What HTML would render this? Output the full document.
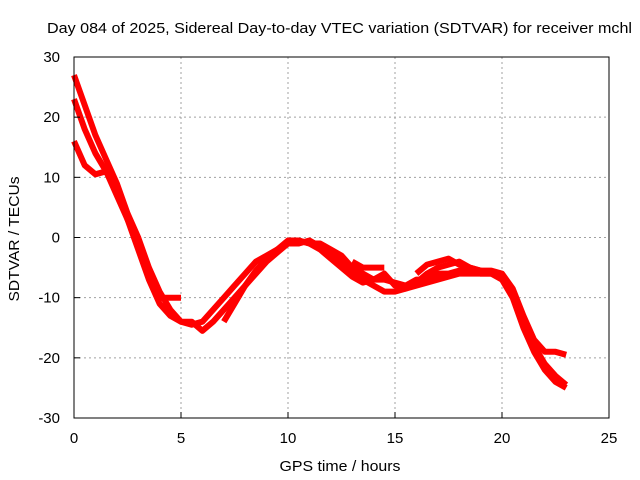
<!DOCTYPE html>
<html><head><meta charset="utf-8"><style>
body{margin:0;background:#fff}
svg{display:block;font-family:"Liberation Sans",sans-serif}
</style></head><body>
<svg id="chart" width="640" height="480" viewBox="0 0 640 480">
<rect width="640" height="480" fill="#fff"/>
<text x="47" y="33" font-size="15" textLength="585" lengthAdjust="spacingAndGlyphs" fill="#000">Day 084 of 2025, Sidereal Day-to-day VTEC variation (SDTVAR) for receiver mchl</text>
<g id="grid"></g>
<g id="series"></g>
<rect x="74" y="57" width="535" height="361" fill="none" stroke="#000" stroke-width="1"/>
<g id="ticks"></g>
<text transform="translate(19,239) rotate(-90)" text-anchor="middle" font-size="15" textLength="125" lengthAdjust="spacingAndGlyphs">SDTVAR / TECUs</text>
<text x="340" y="471" text-anchor="middle" font-size="15" textLength="121" lengthAdjust="spacingAndGlyphs">GPS time / hours</text>
</svg>
<script>
const xTicks=[0,5,10,15,20,25];
const yTicks=[-30,-20,-10,0,10,20,30];
const times=[0,0.5,1,1.5,2,2.5,3,3.5,4,4.5,5,5.5,6,6.5,7,7.5,8,8.5,9,9.5,10,10.5,11,11.5,12,12.5,13,13.5,14,14.5,15,15.5,16,16.5,17,17.5,18,18.5,19,19.5,20,20.5,21,21.5,22,22.5,23];
const seriesA=[27,22,17,13,9,4,0,-5,-9,-12,-14,-14.5,-14,-12,-10,-8,-6,-4,-3,-2,-1,-0.5,-1,-1,-2,-3,-5,-6,-7,-7,-7.5,-8,-7,-7,-6,-6,-5.5,-5.5,-6,-6,-6.5,-9,-14,-18,-21,-23,-24.5];
const seriesB=[23,18,14,11,7,3,-1,-6,-10,-10,-10,null,null,null,-14,-11,-8,-5.5,-3.5,-2,-0.5,-0.5,-1,-2,-3.5,-5,-6.5,-7.5,-7,-6,-8,-8.5,-7.5,-6,-5,-4.5,-4,-5,-5.5,-5.5,-6,-8.5,-13,-17,-19,-19,-19.5];
const seriesC=[16,12,10.5,11,8,3,-2,-7,-11,-13,-14,-14,-15.5,-14,-12,-10,-8,-6,-4,-2.5,-1,-1,-0.5,-1.5,-3,-4,-6,-7,-8,-9,-9,-8.5,-8,-7.5,-7,-6.5,-6,-6,-6,-6,-7,-10,-15,-19,-22,-24,-25];
const seriesD=[null,null,null,null,null,null,null,null,null,null,null,null,null,null,null,null,null,null,null,null,null,null,null,null,null,null,-4,-5,-5,-5,null,null,-6,-4.5,-4,-3.5,-4.5,-5,-5.5,-6,-6,null,null,null,null,null,null];
const allSeries=[seriesA,seriesB,seriesC,seriesD];
const X=t=>74+t*(535/25);
const Y=v=>237.5-v*(361/60);
const NS="http://www.w3.org/2000/svg";
const grid=document.getElementById('grid'),ticks=document.getElementById('ticks'),sg=document.getElementById('series');
function mk(tag,attrs,parent){const e=document.createElementNS(NS,tag);for(const k in attrs)e.setAttribute(k,attrs[k]);parent.appendChild(e);return e;}
xTicks.forEach(t=>{
 if(t>0&&t<25){const l=mk('line',{x1:X(t),x2:X(t),y1:57,y2:418,stroke:'#a0a0a0','stroke-dasharray':'2,3'},grid);
 
 }
 const tk=mk('line',{x1:X(t),x2:X(t),y1:418,y2:412,stroke:'#000'},ticks);
 
 
 const tx=mk('text',{x:X(t),y:443,'text-anchor':'middle','font-size':15},ticks);tx.textContent=t;
 
 
});
yTicks.forEach(v=>{
 if(v>-30&&v<30){const l=mk('line',{x1:74,x2:609,y1:Y(v),y2:Y(v),stroke:'#a0a0a0','stroke-dasharray':'2,3'},grid);
 
 }
 const tk=mk('line',{x1:74,x2:80,y1:Y(v),y2:Y(v),stroke:'#000'},ticks);
 
 
 const tx=mk('text',{x:60,y:Y(v)+5,'text-anchor':'end','font-size':15},ticks);tx.textContent=v;
 
 
});
allSeries.forEach((s,i)=>{
 let d='',pen=false;
 s.forEach((v,j)=>{if(v===null){pen=false;return;}d+=(pen?'L':'M')+X(times[j]).toFixed(1)+','+Y(v).toFixed(1);pen=true;});
 const p=mk('path',{d:d,fill:'none',stroke:'#ff0000','stroke-width':6,'stroke-linejoin':'round'},sg);
 
 
});
</script>
</body></html>
